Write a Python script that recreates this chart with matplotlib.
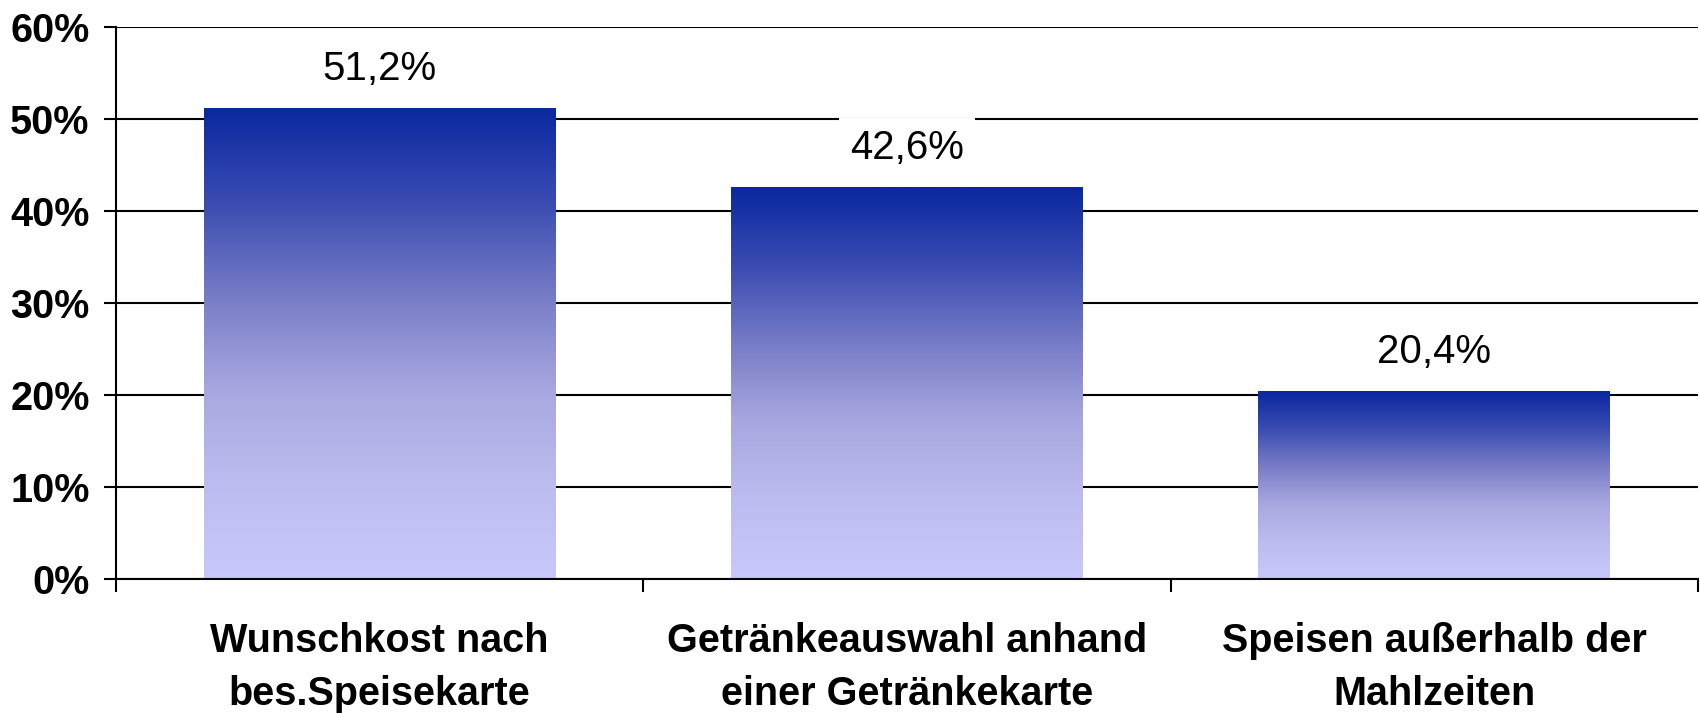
import numpy as np
import matplotlib
matplotlib.use('Agg')
import matplotlib.pyplot as plt
from matplotlib.colors import LinearSegmentedColormap

# Daten
kategorien = ['Wunschkost nach\nbes.Speisekarte',
              'Getränkeauswahl anhand\neiner Getränkekarte',
              'Speisen außerhalb der\nMahlzeiten']
werte = [51.2, 42.6, 20.4]
werte_text = ['51,2%', '42,6%', '20,4%']
y_ticks = [0, 10, 20, 30, 40, 50, 60]

plt.rcParams['font.family'] = ['Liberation Sans', 'DejaVu Sans']

# Farbverlauf (unten hell, oben dunkel)
cmap = LinearSegmentedColormap.from_list('verlauf', [
    (0.0, '#c8c8fa'), (0.2, '#bcbcf0'), (0.4, '#a8a8e0'),
    (0.6, '#787cc6'), (0.8, '#3a4cb2'), (1.0, '#0a28a0')])

fig = plt.figure(figsize=(17, 7.13), dpi=100)
ax = fig.add_axes([0.0682, 0.188, 0.9306, 0.774])

x = np.arange(len(kategorien))
bars = ax.bar(x, werte, width=0.667, color='none', zorder=2)

grad = np.linspace(0, 1, 256).reshape(-1, 1)
for b in bars:
    ax.imshow(grad, cmap=cmap, origin='lower', aspect='auto', zorder=2,
              extent=[b.get_x(), b.get_x() + b.get_width(), 0, b.get_height()])

for xi, w, t in zip(x, werte, werte_text):
    ax.annotate(t, (xi, w), xytext=(0, 28), textcoords='offset points',
                ha='center', va='center', fontsize=29, zorder=4,
                bbox=dict(facecolor='white', edgecolor='none', pad=8))

ax.set_xlim(-0.5, len(kategorien) - 0.5)
ax.set_ylim(0, 60)
ax.set_yticks(y_ticks)
ax.set_yticklabels([f'{v}%' for v in y_ticks], fontsize=28.5, fontweight='bold')
ax.yaxis.grid(True, color='black', linewidth=1.5, zorder=1)
ax.set_axisbelow(True)

ax.set_xticks(np.arange(len(kategorien) + 1) - 0.5)
ax.set_xticklabels([])
ax.set_xticks(x, minor=True)
ax.set_xticklabels(kategorien, minor=True, fontsize=28.5, fontweight='bold',
                   linespacing=1.5)
ax.tick_params(axis='x', which='minor', length=0, pad=31)
ax.tick_params(axis='x', which='major', length=9, width=1.5, direction='out')
ax.tick_params(axis='y', length=9, width=1.5, direction='out', pad=10)

for s in ['top', 'right']:
    ax.spines[s].set_visible(False)
for s in ['left', 'bottom']:
    ax.spines[s].set_linewidth(1.5)

plt.savefig('out.png', dpi=100)
